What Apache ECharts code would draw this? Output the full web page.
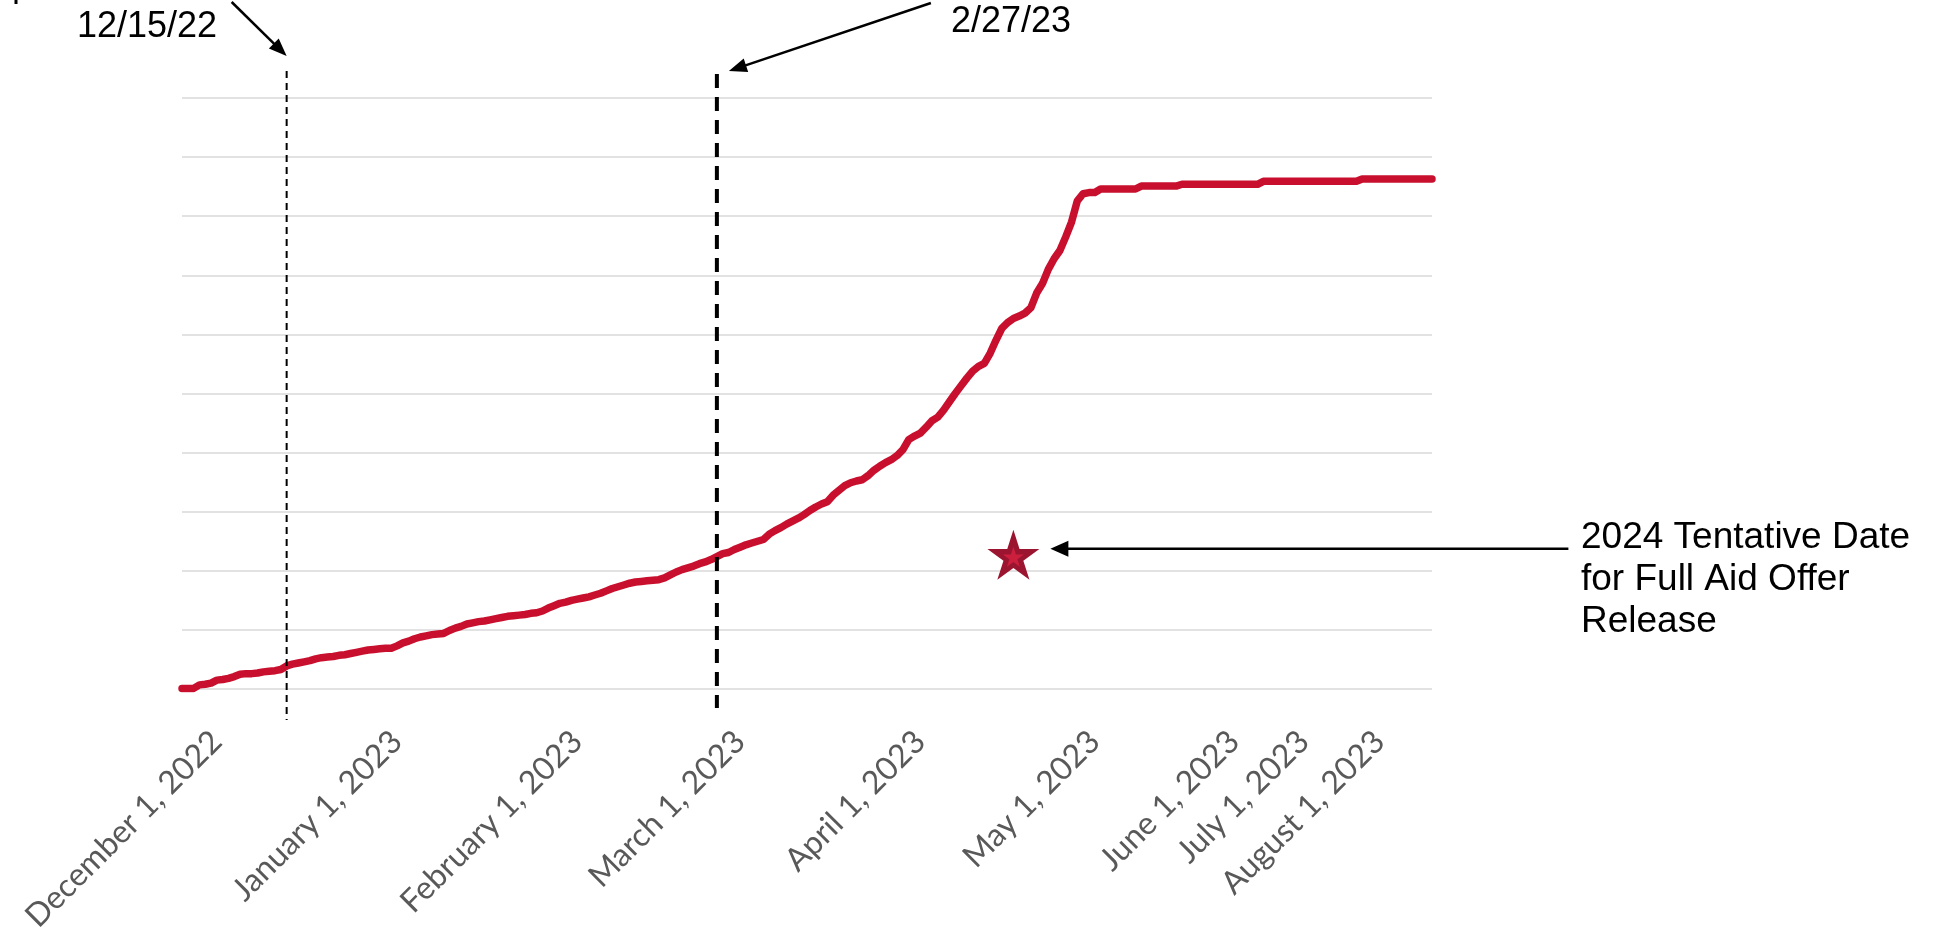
<!DOCTYPE html>
<html>
<head>
<meta charset="utf-8">
<title>Cumulative Aid Offers</title>
<script src="https://cdn.jsdelivr.net/npm/echarts@6/dist/echarts.min.js"></script>
<style>
  html, body { margin: 0; padding: 0; background: #ffffff; }
  #chart { width: 1947px; height: 930px; }
</style>
</head>
<body>
<div id="chart"></div>
<script>
// ---- Dates on the category axis (one entry per recorded day) ----
const monthNames = ['January', 'February', 'March', 'April', 'May', 'June',
  'July', 'August', 'September', 'October', 'November', 'December'];

function allDays(n) { return Array.from({ length: n }, (_, i) => i + 1); }

const nov22Days = [27, 28, 29, 30];
const dec22Days = allDays(31);
const jan23Days = allDays(31);
const feb23Days = allDays(28);
const mar23Days = allDays(31);
const apr23Days = allDays(30);
const may23Days = [1, 2, 3, 4, 5, 8, 9, 10, 11, 12, 13, 15, 16, 17, 18, 19, 22, 23, 24, 25, 26, 29, 30, 31];
const jun23Days = [1, 2, 5, 6, 9, 12, 14, 16, 20, 22, 26, 28];
const jul23Days = [1, 3, 5, 7, 10, 12, 14, 17, 19, 21, 24, 26, 28];
const aug23Days = [1, 2, 3, 4, 7, 8, 9, 10, 11, 14, 15, 16];

// ---- Cumulative share of aid offers released (percent) ----
const nov22Values = [0.1, 0.1, 0.1, 0.7];
const dec22Values = [0.8, 1.0, 1.5, 1.6, 1.8, 2.1, 2.5, 2.6, 2.6, 2.7, 2.9, 3.0, 3.1, 3.3, 3.9, 4.2,
  4.4, 4.6, 4.8, 5.1, 5.3, 5.4, 5.5, 5.7, 5.8, 6.0, 6.2, 6.4, 6.6, 6.7, 6.8];
const jan23Values = [6.9, 6.9, 7.3, 7.8, 8.1, 8.5, 8.8, 9.0, 9.2, 9.3, 9.4, 9.9, 10.3, 10.6, 11.0, 11.2,
  11.4, 11.5, 11.7, 11.9, 12.1, 12.3, 12.4, 12.5, 12.6, 12.8, 12.9, 13.2, 13.7, 14.1, 14.5];
const feb23Values = [14.7, 15.0, 15.2, 15.4, 15.6, 15.9, 16.2, 16.6, 17.0, 17.3, 17.6, 17.9, 18.1, 18.2,
  18.3, 18.4, 18.5, 18.8, 19.3, 19.8, 20.2, 20.5, 20.8, 21.2, 21.5, 21.9, 22.4, 22.9];
const mar23Values = [23.1, 23.6, 24.0, 24.4, 24.7, 25.0, 25.3, 26.2, 26.8, 27.3, 27.9, 28.4, 28.9, 29.5,
  30.2, 30.8, 31.3, 31.7, 32.8, 33.6, 34.4, 34.9, 35.2, 35.4, 36.1, 37.0, 37.7, 38.3, 38.8, 39.5, 40.5];
const apr23Values = [42.2, 42.8, 43.3, 44.3, 45.4, 46.0, 47.2, 48.6, 50.0, 51.3, 52.6, 53.8, 54.6, 55.1,
  56.8, 59.0, 61.0, 62.0, 62.7, 63.1, 63.6, 64.5, 67.0, 68.6, 71.0, 72.8, 74.2, 76.5, 79.0, 82.6];
const may23Values = [83.8, 84.0, 84.0, 84.6, 84.6, 84.6, 84.6, 84.6, 84.6, 84.6, 85.1, 85.1, 85.1, 85.1,
  85.1, 85.1, 85.1, 85.4, 85.4, 85.4, 85.4, 85.4, 85.4, 85.4];
const jun23Values = [85.4, 85.4, 85.4, 85.4, 85.4, 85.4, 85.4, 85.9, 85.9, 85.9, 85.9, 85.9];
const jul23Values = [85.9, 85.9, 85.9, 85.9, 85.9, 85.9, 85.9, 85.9, 85.9, 85.9, 85.9, 85.9, 86.3];
const aug23Values = [86.3, 86.3, 86.3, 86.3, 86.3, 86.3, 86.3, 86.3, 86.3, 86.3, 86.3, 86.3];

// ---- Annotated dates ----
const priorDeadline = '2022-12-15';
const currentDeadline = '2023-02-27';
const tentativeRelease = ['2023-04-19', 22.7];

function dates(year, month, days) {
  const mm = String(month).padStart(2, '0');
  return days.map(d => year + '-' + mm + '-' + String(d).padStart(2, '0'));
}

const categories = [].concat(
  dates(2022, 11, nov22Days), dates(2022, 12, dec22Days), dates(2023, 1, jan23Days),
  dates(2023, 2, feb23Days), dates(2023, 3, mar23Days), dates(2023, 4, apr23Days),
  dates(2023, 5, may23Days), dates(2023, 6, jun23Days), dates(2023, 7, jul23Days),
  dates(2023, 8, aug23Days)
);
const values = [].concat(nov22Values, dec22Values, jan23Values, feb23Values, mar23Values,
  apr23Values, may23Values, jun23Values, jul23Values, aug23Values);

function longDate(v) {
  const p = v.split('-');
  return monthNames[+p[1] - 1] + ' ' + (+p[2]) + ', ' + p[0];
}

const starPath = 'path://M50 0 L61.23 34.55 L97.55 34.55 L68.17 55.9 L79.39 90.45 L50 69.1 ' +
  'L20.61 90.45 L31.83 55.9 L2.45 34.55 L38.77 34.55 Z';

const chart = echarts.init(document.getElementById('chart'), null, { renderer: 'canvas' });

chart.setOption({
  animation: false,
  backgroundColor: '#ffffff',
  grid: { left: 182, right: 515, top: 98, bottom: 241, outerBoundsMode: 'none' },
  xAxis: {
    type: 'category',
    data: categories,
    boundaryGap: false,
    axisLine: { show: false },
    axisTick: { show: false },
    splitLine: { show: false },
    axisLabel: {
      interval: (index, value) => value.endsWith('-01'),
      formatter: longDate,
      rotate: 45,
      margin: 36,
      verticalAlign: 'top',
      color: '#595959',
      fontFamily: 'Lato',
      fontSize: 32
    }
  },
  yAxis: {
    type: 'value',
    min: 0,
    max: 100,
    interval: 10,
    axisLine: { show: false },
    axisTick: { show: false },
    axisLabel: { show: false },
    splitLine: { lineStyle: { color: '#d9d9d9', width: 1.5 } }
  },
  series: [
    {
      type: 'line',
      data: values,
      showSymbol: false,
      smooth: false,
      lineStyle: { color: '#c8102e', width: 7.5, cap: 'round', join: 'round' },
      z: 3
    },
    {
      type: 'scatter',
      data: [tentativeRelease],
      symbol: starPath,
      symbolSize: [52, 50],
      itemStyle: { color: '#9c1530', opacity: 1 },
      z: 4
    },
    {
      type: 'scatter',
      data: [tentativeRelease],
      symbol: starPath,
      symbolSize: [21, 20],
      symbolOffset: [0, 2],
      itemStyle: { color: '#cc1f3d', opacity: 1 },
      z: 5
    }
  ]
});

// ---- Call-out lines, arrows and notes ----
function arrow(x1, y1, x2, y2, width, headLen, headHalf) {
  const dx = x2 - x1, dy = y2 - y1, len = Math.hypot(dx, dy);
  const ux = dx / len, uy = dy / len;
  const bx = x2 - ux * headLen, by = y2 - uy * headLen;
  return [
    { type: 'line', z: 100, shape: { x1: x1, y1: y1, x2: bx + ux * 2, y2: by + uy * 2 },
      style: { stroke: '#000', lineWidth: width } },
    { type: 'polygon', z: 100,
      shape: { points: [[x2, y2], [bx - uy * headHalf, by + ux * headHalf], [bx + uy * headHalf, by - ux * headHalf]] },
      style: { fill: '#000' } }
  ];
}

const xPrior = chart.convertToPixel({ xAxisIndex: 0 }, categories.indexOf(priorDeadline));
const xCurrent = chart.convertToPixel({ xAxisIndex: 0 }, categories.indexOf(currentDeadline));
const starPx = chart.convertToPixel({ gridIndex: 0 }, [categories.indexOf(tentativeRelease[0]), tentativeRelease[1]]);

const noteFont = '36px "Liberation Sans", Arial, sans-serif';
const sideFont = '37px "Liberation Sans", Arial, sans-serif';

const graphics = [].concat(
  [
    { type: 'line', z: 100, shape: { x1: xPrior, y1: 71, x2: xPrior, y2: 720 },
      style: { stroke: '#000', lineWidth: 2, lineDash: [7, 5] } },
    { type: 'line', z: 100, shape: { x1: xCurrent, y1: 74, x2: xCurrent, y2: 708 },
      style: { stroke: '#000', lineWidth: 4, lineDash: [14, 9] } },
    { type: 'line', z: 100, shape: { x1: 16, y1: 0, x2: 16, y2: 4 },
      style: { stroke: '#000', lineWidth: 3 } },
    { type: 'text', z: 100, x: 77, y: 27,
      style: { text: '12/15/22', font: noteFont, fill: '#000', verticalAlign: 'middle' } },
    { type: 'text', z: 100, x: 951, y: 22,
      style: { text: '2/27/23', font: noteFont, fill: '#000', verticalAlign: 'middle' } },
    { type: 'text', z: 100, x: 1581, y: 517,
      style: { text: '2024 Tentative Date\nfor Full Aid Offer\nRelease', font: sideFont,
        lineHeight: 42, fill: '#000', verticalAlign: 'top' } }
  ],
  arrow(xPrior - 55, 2, xPrior, 56, 2.5, 18, 7),
  arrow(xCurrent + 214, 3, xCurrent + 12, 71, 2.5, 18, 7),
  arrow(starPx[0] + 555, starPx[1] - 6, starPx[0] + 37, starPx[1] - 6, 2.5, 18, 8)
);

chart.setOption({ graphic: graphics });
</script>
</body>
</html>
